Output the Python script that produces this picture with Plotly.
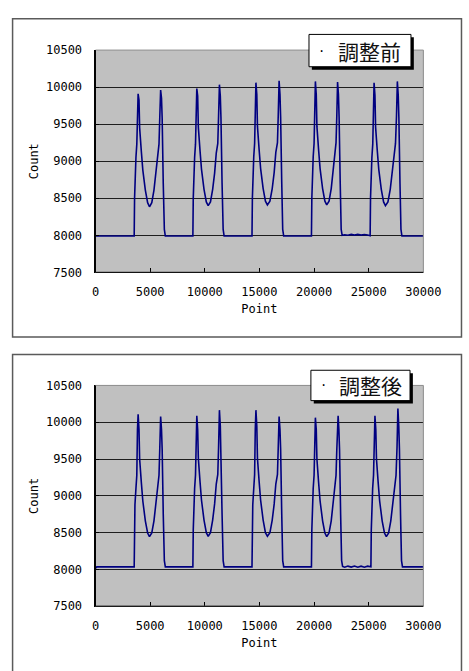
import plotly.graph_objects as go

# ---------------- data ----------------
before_x = [
    0, 3540,
    3575, 3610, 3700, 3780, 3840, 3900, 3980, 4040, 4190, 4330, 4560, 4770, 4940,
    5150, 5350, 5520, 5670, 5810, 5880, 5960, 6040, 6100, 6200, 6300, 6390,
    8910, 8945, 8980, 9070, 9150, 9210, 9270, 9350, 9410, 9560, 9700, 9930, 10140, 10310,
    10520, 10720, 10900, 11050, 11190, 11260, 11340, 11420, 11480, 11580, 11680, 11770,
    14320, 14355, 14390, 14480, 14560, 14620, 14680, 14760, 14820, 14970, 15110, 15340, 15550, 15730,
    15960, 16170, 16350, 16500, 16650, 16720, 16800, 16880, 16940, 17040, 17130, 17220,
    19760, 19795, 19830, 19920, 20000, 20060, 20120, 20200, 20260, 20410, 20550, 20780, 20990, 21160,
    21370, 21570, 21740, 21880, 22010, 22080, 22150, 22230, 22290, 22390, 22480, 22570,
    22800, 23100, 23400, 23700, 24000, 24300, 24600, 24900, 25130,
    25165, 25200, 25290, 25370, 25430, 25490, 25570, 25630, 25780, 25920, 26150, 26360, 26530,
    26760, 26970, 27140, 27290, 27450, 27540, 27620, 27700, 27760, 27860, 27950, 28040,
    30000,
]
before_y = [
    7990, 7990,
    8500, 8830, 9050, 9230, 9800, 9910, 9825, 9450, 9140, 8880, 8610, 8440, 8385,
    8440, 8610, 8830, 9100, 9230, 9580, 9960, 9850, 9580, 8700, 8080, 7990,
    7990, 8500, 8830, 9050, 9230, 9820, 9980, 9880, 9460, 9150, 8890, 8620, 8450, 8400,
    8450, 8620, 8840, 9110, 9240, 9600, 10033, 9880, 9590, 8710, 8080, 7990,
    7990, 8500, 8840, 9060, 9240, 9840, 10060, 9900, 9470, 9160, 8900, 8630, 8460, 8410,
    8460, 8630, 8850, 9120, 9250, 9610, 10086, 9900, 9600, 8720, 8080, 7990,
    7990, 8500, 8840, 9060, 9240, 9840, 10077, 9900, 9470, 9160, 8900, 8630, 8460, 8410,
    8460, 8630, 8850, 9120, 9250, 9610, 10068, 9900, 9600, 8720, 8080, 8000,
    8008, 8000, 8012, 8003, 8012, 8002, 8010, 8003, 7995,
    8500, 8830, 9050, 9230, 9830, 10060, 9890, 9460, 9150, 8890, 8620, 8450, 8400,
    8450, 8620, 8840, 9110, 9240, 9600, 10077, 9890, 9590, 8710, 8080, 7990,
    7990,
]

after_x = [
    0, 120, 3540,
    3575, 3610, 3700, 3780, 3840, 3900, 3980, 4040, 4190, 4330, 4560, 4770, 4940,
    5150, 5350, 5520, 5670, 5810, 5880, 5960, 6040, 6100, 6200, 6300, 6390,
    8910, 8945, 8980, 9070, 9150, 9210, 9270, 9350, 9410, 9560, 9700, 9930, 10140, 10310,
    10520, 10720, 10900, 11050, 11190, 11260, 11340, 11420, 11480, 11580, 11680, 11770,
    14320, 14355, 14390, 14480, 14560, 14620, 14680, 14760, 14820, 14970, 15110, 15340, 15550, 15730,
    15960, 16170, 16350, 16500, 16650, 16720, 16800, 16880, 16940, 17040, 17130, 17220,
    19760, 19795, 19830, 19920, 20000, 20060, 20120, 20200, 20260, 20410, 20550, 20780, 20990, 21160,
    21370, 21570, 21740, 21880, 22010, 22080, 22200, 22270, 22330, 22430, 22520, 22610,
    22800, 23100, 23400, 23700, 24000, 24300, 24600, 24900, 25200,
    25235, 25270, 25360, 25440, 25500, 25570, 25650, 25710, 25860, 26000, 26230, 26440, 26610,
    26820, 27020, 27190, 27340, 27500, 27590, 27670, 27750, 27810, 27910, 28000, 28090,
    30000,
]
after_y = [
    8015, 8035, 8035,
    8540, 8880, 9100, 9280, 9900, 10107, 9900, 9500, 9190, 8930, 8660, 8495, 8445,
    8495, 8660, 8880, 9150, 9280, 9630, 10076, 9900, 9630, 8750, 8120, 8035,
    8035, 8540, 8880, 9100, 9280, 9880, 10089, 9900, 9510, 9200, 8940, 8670, 8500, 8450,
    8500, 8670, 8890, 9160, 9290, 9650, 10164, 9950, 9640, 8760, 8120, 8035,
    8035, 8540, 8880, 9100, 9290, 9900, 10164, 9950, 9510, 9200, 8940, 8670, 8500, 8450,
    8500, 8670, 8890, 9160, 9290, 9650, 10076, 9900, 9640, 8760, 8120, 8035,
    8035, 8540, 8880, 9100, 9280, 9860, 10062, 9900, 9500, 9190, 8930, 8660, 8495, 8445,
    8495, 8660, 8880, 9150, 9280, 9630, 10089, 9900, 9630, 8750, 8120, 8040,
    8030, 8045, 8032, 8046, 8030, 8044, 8031, 8045, 8035,
    8540, 8880, 9100, 9280, 9880, 10089, 9900, 9500, 9190, 8930, 8660, 8495, 8445,
    8495, 8660, 8880, 9150, 9280, 9660, 10187, 9950, 9640, 8760, 8120, 8035,
    8035,
]

x_ticks = [0, 5000, 10000, 15000, 20000, 25000, 30000]
x_tick_text = ["0", "5000", "10000", "15000", "20000", "25000", "30000"]
y_ticks = [7500, 8000, 8500, 9000, 9500, 10000, 10500]
y_tick_text = ["7500", "8000", "8500", "9000", "9500", "10000", "10500"]
series_names = ["調整前", "調整後"]
x_title = "Point"
y_title = "Count"

# ---------------- layout helpers ----------------
W, H = 469, 671
def px(x):
    return x / W
def py(y):
    return 1 - y / H

LINE = "#000080"
MONO = "DejaVu Sans Mono"
CJK = "Noto Sans CJK JP"

fig = go.Figure()
fig.add_trace(go.Scatter(x=before_x, y=before_y, mode="lines", name=series_names[0],
                         line=dict(color=LINE, width=1.6), xaxis="x", yaxis="y",
                         showlegend=False))
fig.add_trace(go.Scatter(x=after_x, y=after_y, mode="lines", name=series_names[1],
                         line=dict(color=LINE, width=1.6), xaxis="x2", yaxis="y2",
                         showlegend=False))

xdom = [px(96), px(440)]
top_dom = [py(271), py(44)]
bot_dom = [py(612), py(386.5)]

def xaxis_cfg(anchor):
    return dict(domain=xdom, range=[0, 30000], tickvals=x_ticks, ticktext=x_tick_text,
                showgrid=False, zeroline=False, showline=True, linecolor="black",
                linewidth=1, ticks="inside", ticklen=4, tickcolor="black",
                tickfont=dict(family=MONO, size=12, color="black"),
                ticklabelstandoff=8,
                title=dict(text=x_title, font=dict(family=MONO, size=12, color="black"),
                           standoff=6),
                anchor=anchor)

def yaxis_cfg(dom, anchor):
    return dict(domain=dom, range=[7500, 10500], tickvals=y_ticks, ticktext=y_tick_text,
                showgrid=True, gridcolor="#1e1e1e", gridwidth=1,
                zeroline=False, showline=True, linecolor="black", linewidth=1,
                ticks="inside", ticklen=4, tickcolor="black",
                tickfont=dict(family=MONO, size=12, color="black"),
                ticklabelstandoff=10,
                title=dict(text=y_title, font=dict(family=MONO, size=12, color="black"),
                           standoff=4),
                anchor=anchor)

shapes = []
annotations = []
# panel frames
for (y0, y1) in [(12, 337), (355, 700)]:
    shapes.append(dict(type="rect", xref="paper", yref="paper",
                       x0=px(9), x1=px(480), y0=py(y1), y1=py(y0),
                       line=dict(color="#5a5a5a", width=1.5), fillcolor="rgba(0,0,0,0)",
                       layer="below"))
# plot area gray border (top / right)
for xr, yr in [("x domain", "y domain"), ("x2 domain", "y2 domain")]:
    shapes.append(dict(type="rect", xref=xr, yref=yr, x0=0, x1=1, y0=0, y1=1,
                       line=dict(color="#8c8c8c", width=1), fillcolor="rgba(0,0,0,0)",
                       layer="above"))
# re-draw black axis lines on left / bottom
for xr, yr in [("x domain", "y domain"), ("x2 domain", "y2 domain")]:
    shapes.append(dict(type="line", xref=xr, yref=yr, x0=0, x1=0, y0=0, y1=1,
                       line=dict(color="black", width=1), layer="above"))
    shapes.append(dict(type="line", xref=xr, yref=yr, x0=0, x1=1, y0=0, y1=0,
                       line=dict(color="black", width=1), layer="above"))

# legend boxes with shadow
legend_boxes = [(320, 28, 427, 61), (322, 371, 426, 402)]
for (x0, y0, x1, y1), name in zip(legend_boxes, series_names):
    shapes.append(dict(type="rect", xref="paper", yref="paper",
                       x0=px(x0 + 3), x1=px(x1 + 3), y0=py(y1 + 3), y1=py(y0 + 3),
                       line=dict(width=0), fillcolor="black", layer="above"))
    shapes.append(dict(type="rect", xref="paper", yref="paper",
                       x0=px(x0), x1=px(x1), y0=py(y1), y1=py(y0),
                       line=dict(color="black", width=1), fillcolor="white", layer="above"))
    cy = (y0 + y1) / 2
    annotations.append(dict(xref="paper", yref="paper", x=px(x0 + 13), y=py(cy),
                            text="·", showarrow=False, xanchor="center", yanchor="middle",
                            font=dict(family=MONO, size=12, color="black")))
    annotations.append(dict(xref="paper", yref="paper", x=px(x0 + 63), y=py(cy),
                            text=name, showarrow=False, xanchor="center", yanchor="middle",
                            font=dict(family=CJK, size=21, color="#111111")))

fig.update_layout(
    width=W, height=H, autosize=False,
    margin=dict(l=0, r=0, t=0, b=0),
    paper_bgcolor="white", plot_bgcolor="#c0c0c0",
    xaxis=xaxis_cfg("y"), yaxis=yaxis_cfg(top_dom, "x"),
    xaxis2=xaxis_cfg("y2"), yaxis2=yaxis_cfg(bot_dom, "x2"),
    shapes=shapes, annotations=annotations,
    showlegend=False,
)

fig.write_html(
    "out.html",
    config={"displayModeBar": False},
    post_script="document.body.style.margin='0';document.body.style.overflow='hidden';",
)
